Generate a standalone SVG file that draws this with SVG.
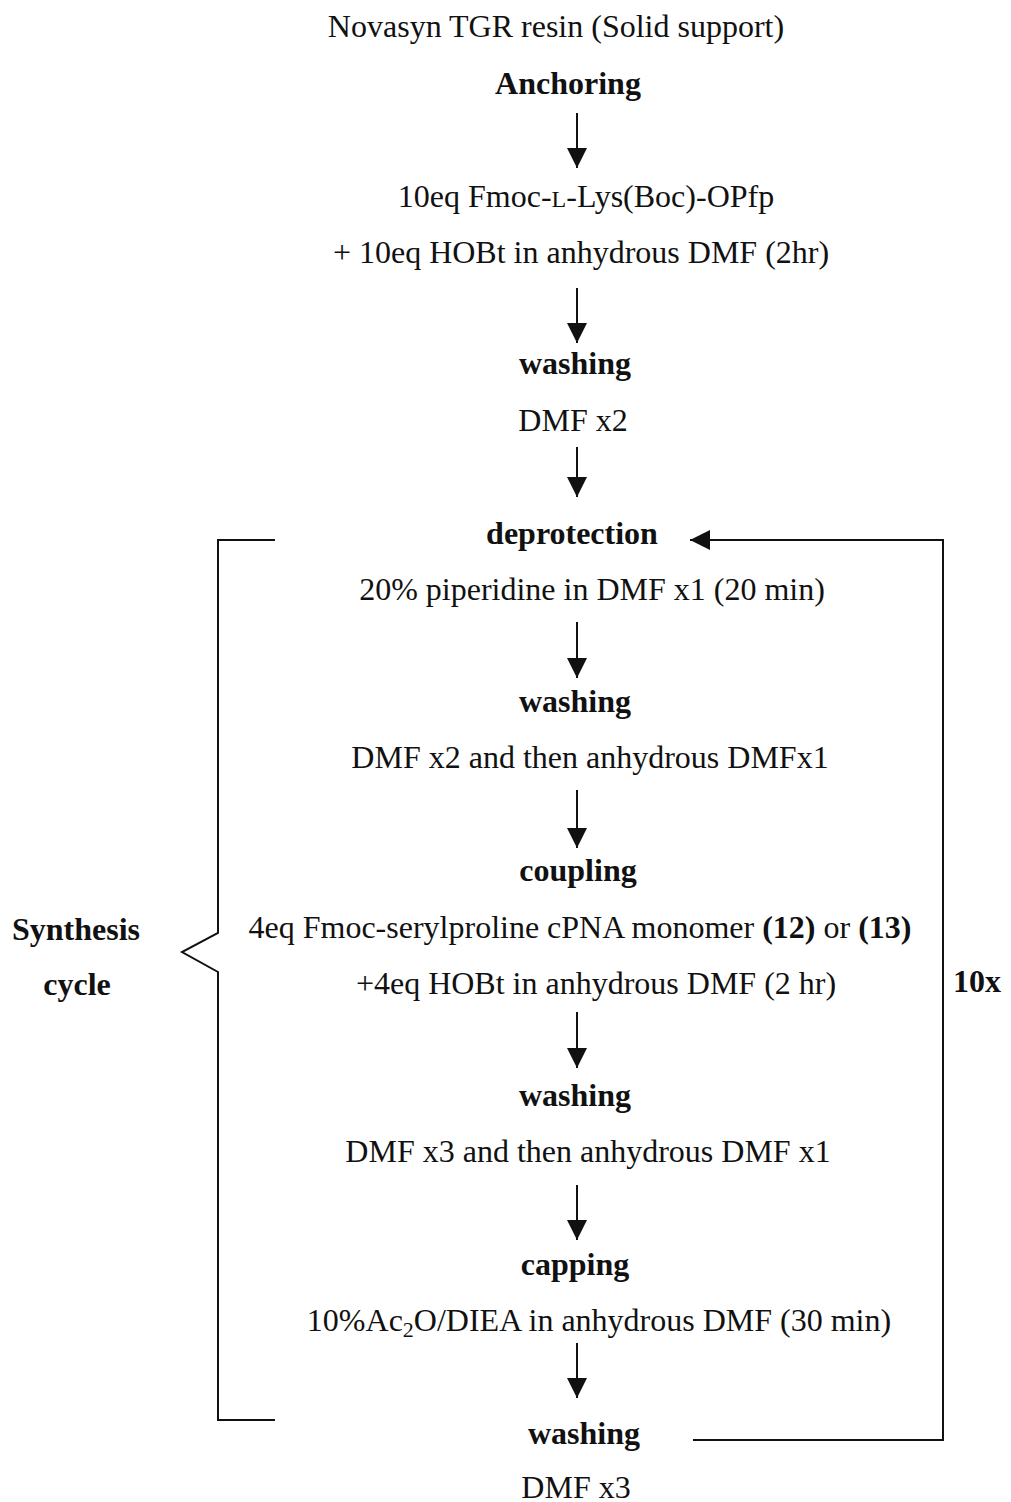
<svg xmlns="http://www.w3.org/2000/svg" width="1011" height="1502" viewBox="0 0 1011 1502">
<defs>
<style>
text{font-family:"Liberation Serif","Times New Roman",serif;font-size:32px;fill:#111;text-anchor:middle}
.b{font-weight:bold}
.c{stroke:#111;stroke-width:2;fill:none}
</style>
<marker id="ah" markerUnits="userSpaceOnUse" markerWidth="22" markerHeight="20" refX="20" refY="10" orient="auto">
<path d="M0,0 L20,10 L0,20 z" fill="#111"/>
</marker>
</defs>
<rect width="1011" height="1502" fill="#fff"/>
<g id="connectors">
<line class="c" x1="577" y1="113" x2="577" y2="168" marker-end="url(#ah)"/>
<line class="c" x1="577" y1="288" x2="577" y2="343" marker-end="url(#ah)"/>
<line class="c" x1="577" y1="447" x2="577" y2="497" marker-end="url(#ah)"/>
<line class="c" x1="577" y1="622" x2="577" y2="678" marker-end="url(#ah)"/>
<line class="c" x1="577" y1="790" x2="577" y2="848" marker-end="url(#ah)"/>
<line class="c" x1="577" y1="1012" x2="577" y2="1068" marker-end="url(#ah)"/>
<line class="c" x1="577" y1="1185" x2="577" y2="1240" marker-end="url(#ah)"/>
<line class="c" x1="577" y1="1343" x2="577" y2="1398" marker-end="url(#ah)"/>
<polyline class="c" points="693,1440 943,1440 943,540 690,540" marker-end="url(#ah)"/>
</g>
<g id="bracket">
<polyline class="c" points="275,540 218,540 218,933 182,952 218,972 218,1420 275,1420"/>
</g>
<g id="start"><text x="556" y="37">Novasyn TGR resin (Solid support)</text></g>
<g id="anchoring">
<text class="b" x="568" y="94">Anchoring</text>
<text x="586" y="207">10eq Fmoc-<tspan font-size="24">L</tspan>-Lys(Boc)-OPfp</text>
<text x="581" y="263">+ 10eq HOBt in anhydrous DMF (2hr)</text>
</g>
<g id="washing1">
<text class="b" x="575" y="374">washing</text>
<text x="573" y="431">DMF x2</text>
</g>
<g id="deprotection">
<text class="b" x="572" y="544">deprotection</text>
<text x="592" y="600">20% piperidine in DMF x1 (20 min)</text>
</g>
<g id="washing2">
<text class="b" x="575" y="712">washing</text>
<text x="590" y="768">DMF x2 and then anhydrous DMFx1</text>
</g>
<g id="coupling">
<text class="b" x="578" y="881">coupling</text>
<text x="580" y="938">4eq Fmoc-serylproline cPNA monomer <tspan class="b">(12)</tspan> or <tspan class="b">(13)</tspan></text>
<text x="596" y="994">+4eq HOBt in anhydrous DMF (2 hr)</text>
</g>
<g id="washing3">
<text class="b" x="575" y="1106">washing</text>
<text x="588" y="1162">DMF x3 and then anhydrous DMF x1</text>
</g>
<g id="capping">
<text class="b" x="575" y="1275">capping</text>
<text x="599" y="1331">10%Ac<tspan font-size="22" dy="6">2</tspan><tspan dy="-6">O/DIEA in anhydrous DMF (30 min)</tspan></text>
</g>
<g id="washing4">
<text class="b" x="584" y="1444">washing</text>
<text x="576" y="1498">DMF x3</text>
</g>
<g id="labels">
<text class="b" x="76" y="940">Synthesis</text>
<text class="b" x="77" y="995">cycle</text>
<text class="b" x="977" y="992">10x</text>
</g>
</svg>
